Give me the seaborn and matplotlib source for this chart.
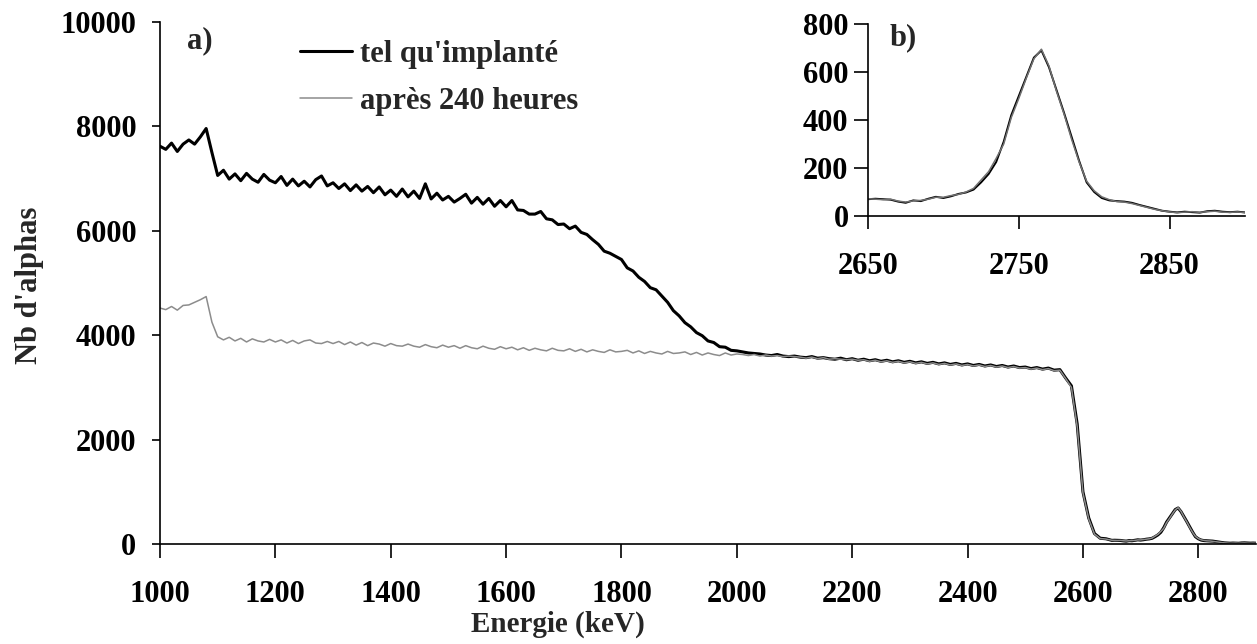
import numpy as np
import pandas as pd
import matplotlib
matplotlib.use("Agg")
import matplotlib.pyplot as plt
import seaborn as sns

# ---------------- data ----------------
energie = np.concatenate([np.arange(1000, 2650, 10), np.arange(2650, 2905, 5)])

tel_quimplante = [
    7620, 7560, 7680, 7520, 7660, 7740, 7660, 7800, 7960, 7500,
    7060, 7160, 6990, 7090, 6960, 7100, 6990, 6930, 7080, 6970,
    6920, 7040, 6870, 6990, 6860, 6950, 6840, 6980, 7050, 6860,
    6920, 6810, 6900, 6770, 6880, 6760, 6850, 6730, 6840, 6690,
    6780, 6660, 6800, 6650, 6760, 6620, 6900, 6610, 6720, 6590,
    6660, 6550, 6620, 6700, 6530, 6640, 6510, 6620, 6470, 6580,
    6460, 6580, 6400, 6390, 6320, 6320, 6370, 6230, 6210, 6120,
    6130, 6040, 6090, 5970, 5930, 5830, 5740, 5610, 5570, 5510,
    5450, 5290, 5230, 5110, 5030, 4910, 4870, 4750, 4630, 4470,
    4370, 4240, 4160, 4050, 3990, 3890, 3860, 3780, 3770, 3710,
    3700, 3680, 3660, 3650, 3640, 3620, 3610, 3630, 3600, 3590,
    3600, 3580, 3570, 3590, 3560, 3570, 3550, 3540, 3560, 3530,
    3550, 3520, 3540, 3510, 3530, 3500, 3520, 3490, 3510, 3480,
    3500, 3470, 3490, 3460, 3480, 3450, 3470, 3440, 3460, 3430,
    3450, 3420, 3440, 3410, 3430, 3400, 3420, 3390, 3410, 3380,
    3390, 3360, 3380, 3350, 3370, 3330, 3340, 3180, 3030, 2300,
    1000, 500, 200, 110, 100,
    70, 72, 70, 68, 60, 55, 65, 62, 72, 80,
    75, 82, 92, 98, 110, 140, 175, 225, 310, 420,
    500, 580, 660, 690, 620, 525, 430, 330, 230, 140,
    100, 75, 65, 62, 60, 55, 46, 38, 30, 22,
    18, 15, 18, 16, 14, 20, 22, 18, 16, 18,
    15,
]

apres_240h = [
    4520, 4490, 4550, 4480, 4570, 4580, 4630, 4680, 4740, 4250,
    3970, 3910, 3960, 3890, 3940, 3870, 3930, 3890, 3870, 3920,
    3870, 3910, 3850, 3900, 3840, 3890, 3910, 3850, 3840, 3880,
    3840, 3880, 3820, 3870, 3810, 3860, 3800, 3850, 3830, 3790,
    3840, 3800, 3790, 3830, 3790, 3770, 3820, 3780, 3760, 3810,
    3770, 3800, 3750, 3800, 3760, 3740, 3790, 3750, 3730, 3780,
    3740, 3770, 3720, 3760, 3710, 3750, 3720, 3700, 3750, 3710,
    3700, 3740, 3690, 3730, 3680, 3720, 3690, 3670, 3720, 3680,
    3690, 3710, 3660, 3700, 3650, 3690, 3660, 3640, 3690, 3650,
    3660, 3680, 3630, 3670, 3620, 3660, 3630, 3610, 3660, 3620,
    3640, 3630, 3610, 3630, 3600, 3620, 3600, 3610, 3590, 3600,
    3590, 3580, 3560, 3580, 3550, 3570, 3540, 3550, 3540, 3530,
    3540, 3520, 3530, 3500, 3520, 3490, 3510, 3480, 3500, 3470,
    3490, 3460, 3480, 3450, 3470, 3440, 3460, 3430, 3450, 3420,
    3440, 3410, 3430, 3400, 3420, 3390, 3410, 3380, 3400, 3370,
    3380, 3350, 3370, 3340, 3360, 3320, 3330, 3170, 3000, 2250,
    980, 480, 190, 105, 95,
    72, 70, 68, 70, 62, 58, 63, 65, 70, 78,
    78, 85, 90, 100, 115, 150, 185, 240, 300, 410,
    490, 575, 655, 695, 625, 520, 425, 320, 225, 145,
    105, 80, 68, 60, 58, 52, 44, 36, 28, 22,
    17, 14, 16, 18, 15, 18, 20, 16, 15, 17,
    14,
]

serie_labels = ["tel qu'implanté", "après 240 heures"]
serie_colors = ["#000000", "#8c8c8c"]

x_ticks_main = [1000, 1200, 1400, 1600, 1800, 2000, 2200, 2400, 2600, 2800]
y_ticks_main = [0, 2000, 4000, 6000, 8000, 10000]
x_ticks_inset = [2650, 2750, 2850]
y_ticks_inset = [0, 200, 400, 600, 800]

# ---------------- style ----------------
sns.set_style("ticks")
plt.rcParams["font.family"] = ["Liberation Serif", "DejaVu Serif"]
plt.rcParams["font.weight"] = "bold"
plt.rcParams["axes.labelweight"] = "bold"
plt.rcParams["axes.edgecolor"] = "black"
plt.rcParams["xtick.color"] = "black"
plt.rcParams["ytick.color"] = "black"

df = pd.DataFrame({
    "Energie": np.tile(energie, 2),
    "Nb": np.concatenate([tel_quimplante, apres_240h]),
    "serie": np.repeat(serie_labels, len(energie)),
})
palette = dict(zip(serie_labels, serie_colors))

W, H = 1257, 644
fig = plt.figure(figsize=(W / 100, H / 100), dpi=100)

# ---------------- main axes ----------------
ax = fig.add_axes([160 / W, 100 / H, 1096 / W, 522 / H])
sns.lineplot(data=df, x="Energie", y="Nb", hue="serie", hue_order=serie_labels,
             size="serie", sizes={serie_labels[0]: 2.2, serie_labels[1]: 1.1},
             palette=palette, estimator=None, legend=False, ax=ax)
ax.set_xlim(1000, 2900)
ax.set_ylim(0, 10000)
ax.set_xticks(x_ticks_main)
ax.set_yticks(y_ticks_main)
ax.set_xlabel("Energie (keV)", fontsize=21)
ax.set_ylabel("Nb d'alphas", fontsize=22)
ax.xaxis.set_label_coords(0.363, -0.128)
ax.yaxis.set_label_coords(-0.106, 0.496)
ax.tick_params(axis="x", length=10, width=1.2, pad=16, labelsize=22)
ax.tick_params(axis="y", length=6, width=1.2, pad=11, labelsize=22)
sns.despine(ax=ax)
for s in ["left", "bottom"]:
    ax.spines[s].set_linewidth(1.2)

handles = ax.get_lines()[:2]
fig.legend(handles, serie_labels, loc="upper left",
           bbox_to_anchor=(300 / W, 1 - 40 / H), frameon=False,
           fontsize=22, handlelength=1.7, handletextpad=0.28,
           labelspacing=0.58, borderpad=0, borderaxespad=0)
fig.text(200 / W, 1 - 41 / H, "a)", ha="center", va="center", fontsize=22, weight="bold")

# ---------------- inset ----------------
ax_in = fig.add_axes([868 / W, (H - 216) / H, 377 / W, 192 / H])
df_in = df[df["Energie"] >= 2650]
sns.lineplot(data=df_in, x="Energie", y="Nb", hue="serie", hue_order=serie_labels,
             size="serie", sizes={serie_labels[0]: 1.4, serie_labels[1]: 1.1},
             palette={serie_labels[0]: "#000000", serie_labels[1]: "#707070"},
             estimator=None, legend=False, ax=ax_in)
ax_in.set_xlim(2650, 2900)
ax_in.set_ylim(0, 800)
ax_in.set_xticks(x_ticks_inset)
ax_in.set_yticks(y_ticks_inset)
ax_in.set_xlabel("")
ax_in.set_ylabel("")
ax_in.tick_params(axis="x", length=9, width=1.2, pad=17, labelsize=22)
ax_in.tick_params(axis="y", length=10, width=1.2, pad=4, labelsize=22)
sns.despine(ax=ax_in)
for s in ["left", "bottom"]:
    ax_in.spines[s].set_linewidth(1.2)
fig.text(903 / W, 1 - 38 / H, "b)", ha="center", va="center", fontsize=22, weight="bold")

fig.savefig("out.png", dpi=100)
